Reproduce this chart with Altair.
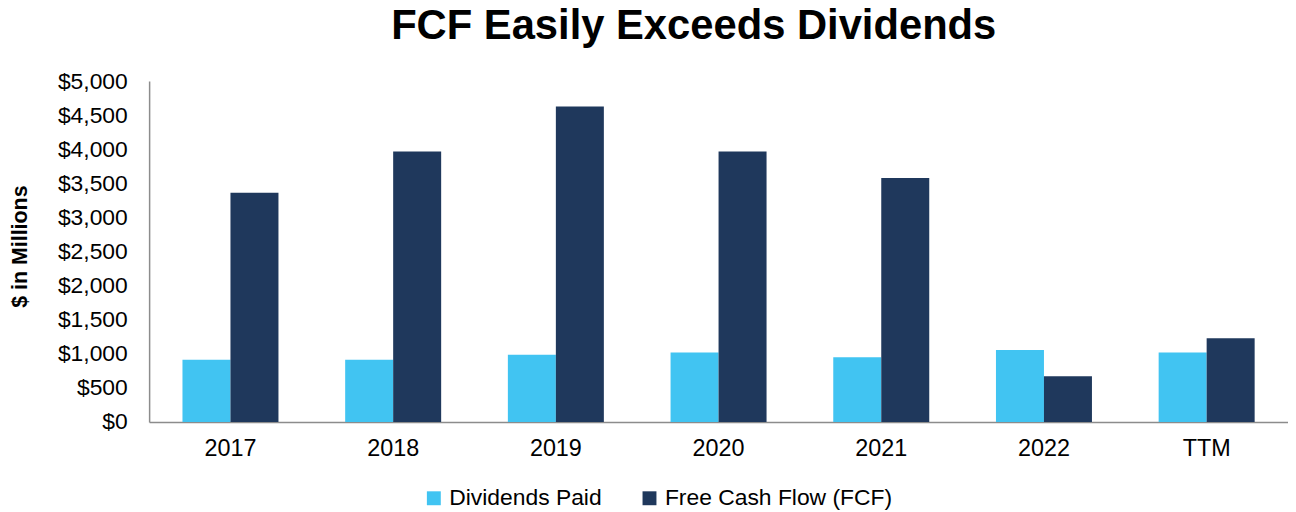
import altair as alt
import pandas as pd

years = ["2017", "2018", "2019", "2020", "2021", "2022", "TTM"]
dividends_paid = [913, 913, 986, 1021, 948, 1055, 1021]
free_cash_flow = [3364, 3967, 4628, 3967, 3578, 671, 1230]
series_names = ["Dividends Paid", "Free Cash Flow (FCF)"]
series_colors = ["#41C4F2", "#1F385C"]
y_ticks = [0, 500, 1000, 1500, 2000, 2500, 3000, 3500, 4000, 4500, 5000]

rows = []
for i, yr in enumerate(years):
    rows.append({"year": yr, "series": series_names[0], "value": dividends_paid[i]})
    rows.append({"year": yr, "series": series_names[1], "value": free_cash_flow[i]})
df = pd.DataFrame(rows)

FONT = "Liberation Sans"
AXIS_GRAY = "#8c8c8c"

chart = alt.Chart(df).mark_bar().encode(
    x=alt.X(
        "year:N", sort=years, title=None,
        scale=alt.Scale(paddingInner=0.41, paddingOuter=0.205),
        axis=alt.Axis(labelAngle=0, labelFontSize=23.5, labelFont=FONT, labelColor="#000",
                      ticks=False, tickSize=0, labelPadding=15, domainColor=AXIS_GRAY,
                      domainWidth=1.5, grid=False),
    ),
    xOffset=alt.XOffset("series:N", sort=series_names,
                        scale=alt.Scale(paddingInner=0, paddingOuter=0)),
    y=alt.Y(
        "value:Q", title="$ in Millions",
        scale=alt.Scale(domain=[0, 5000], nice=False),
        axis=alt.Axis(values=y_ticks, format="$,.0f", labelFontSize=23, labelFont=FONT,
                      labelColor="#000", ticks=False, tickSize=0, labelPadding=22, grid=False,
                      domainColor=AXIS_GRAY, domainWidth=1.5,
                      titleFontSize=21.5, titleFont=FONT, titleFontWeight="bold",
                      titleColor="#000", titleX=-118, titleY=166),
    ),
    color=alt.Color(
        "series:N", sort=series_names,
        scale=alt.Scale(domain=series_names, range=series_colors),
        legend=alt.Legend(title=None, orient="none", legendX=275, legendY=408,
                          direction="horizontal", symbolType="square", symbolSize=196,
                          symbolStrokeWidth=0, labelFontSize=23, labelFont=FONT,
                          labelColor="#000", labelLimit=0, columnPadding=36,
                          labelOffset=4, padding=0),
    ),
).properties(
    width=1146, height=343,
    padding={"left": 142, "top": 72, "right": 0, "bottom": 92},
    autosize=alt.AutoSizeParams(type="none"),
    title=alt.TitleParams("FCF Easily Exceeds Dividends", fontSize=42, font=FONT,
                          fontWeight="bold", color="#000", anchor="middle", dx=-25,
                          offset=22),
).configure_view(stroke=None)

chart.save("out.html", embed_options={"renderer": "svg", "actions": False})
